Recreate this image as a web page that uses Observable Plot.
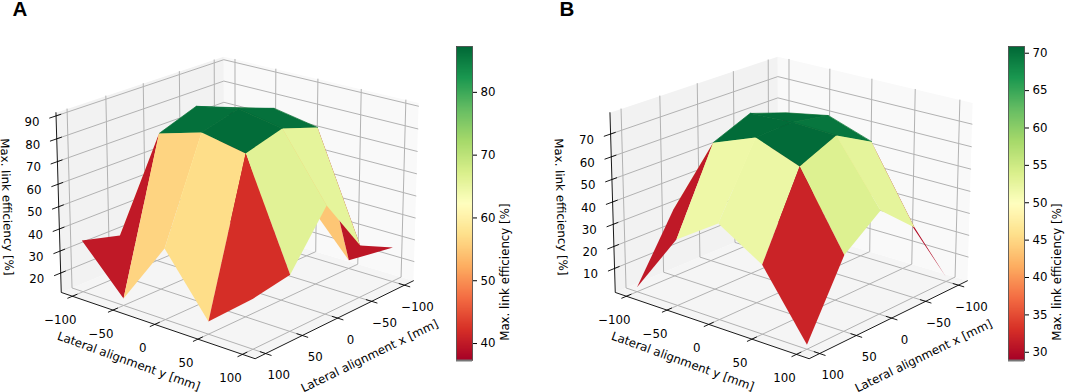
<!DOCTYPE html>
<html><head><meta charset="utf-8">
<script src="https://cdn.jsdelivr.net/npm/d3@7"></script>
<script src="https://cdn.jsdelivr.net/npm/@observablehq/plot@0.6"></script>
<style>html,body{margin:0;padding:0;background:#fff}
#root{position:relative;width:1065px;height:392px;overflow:hidden}
#root>div,#root>svg{position:absolute;top:0}</style></head>
<body><div id="root"></div>
<script>
const gridX=[-100,-50,0,50,100];
const gridY=[-100,-50,0,50,100];
// rows: x = -100..100, columns: y = -100..100
const zA=[[15,25,36.8,14.9,26.8],[29,81,85.4,81.8,34.7],[50,87.2,91,87.3,59.2],[29.9,81.1,86.5,82.6,36],[34.5,14.3,42.6,16.7,33]];
const zB=[[3,14,30,24.7,0.9],[20,66.5,70.1,63.5,30.7],[44,72,73,72.2,44.9],[29.7,65,72.3,65,32.5],[1,28.6,41.4,29.4,1]];
const zTicksA=[20,30,40,50,60,70,80,90];
const zTicksB=[10,20,30,40,50,60,70];
const zLimA=[11.1,91.4];
const zLimB=[-1,79.3];
const barDomainA=[37.3,87.3];
const barDomainB=[28.9,70.9];
const barTicksA=[40,50,60,70,80];
const barTicksB=[30,35,40,45,50,55,60,65,70];
const cmap=["#a50026","#d73027","#f46d43","#fdae61","#fee08b","#ffffbf","#d9ef8b","#a6d96a","#66bd63","#1a9850","#006837"];
const zLabel="Max. link efficiency [%]";
const xLabel="Lateral alignment x [mm]";
const yLabel="Lateral alignment y [mm]";
const FONT="DejaVu Sans", FS=11.8;
const L=114, dist=10, W=450, H=392;
const view={el:20,az:40,bx:1.143,bz:0.857,k:2219,cx:238,cy:198};
const rad=Math.PI/180;
function camera(zLim){
  const sa=Math.sin(view.az*rad),ca=Math.cos(view.az*rad),se=Math.sin(view.el*rad),ce=Math.cos(view.el*rad);
  return (x,y,z)=>{
    const X=x/L*view.bx/2,Y=y/L*view.bx/2,Z=((z-zLim[0])/(zLim[1]-zLim[0])-.5)*view.bz;
    const px=-sa*X+ca*Y, py=-se*ca*X-se*sa*Y+ce*Z, pz=ce*ca*X+ce*sa*Y+se*Z, w=dist-pz;
    return {sx:px/w,sy:py/w,depth:pz};
  };
}
function colorScale(dom){
  return {type:"linear",domain:d3.range(cmap.length).map(i=>dom[0]+(dom[1]-dom[0])*i/(cmap.length-1)),range:cmap,interpolate:"rgb",clamp:true};
}
function panel(z,zLim,zTicks,dom,name,nameDx){
  const P=camera(zLim),[z0,z1]=zLim;
  const path=(pts,id,extra)=>pts.map(p=>({...P(...p),id,...extra}));
  const panes=[
    path([[-L,-L,z0],[L,-L,z0],[L,L,z0],[-L,L,z0]],"floor",{f:"#f5f5f5"}),
    path([[-L,-L,z0],[L,-L,z0],[L,-L,z1],[-L,-L,z1]],"wy",{f:"#f2f2f2"}),
    path([[-L,-L,z0],[-L,L,z0],[-L,L,z1],[-L,-L,z1]],"wx",{f:"#f9f9f9"})
  ].flat();
  const grid=[];
  gridX.forEach(x=>{grid.push(...path([[x,L,z0],[x,-L,z0],[x,-L,z1]],"gx"+x));});
  gridY.forEach(y=>{grid.push(...path([[L,y,z0],[-L,y,z0],[-L,y,z1]],"gy"+y));});
  zTicks.forEach(t=>{grid.push(...path([[L,-L,t],[-L,-L,t],[-L,L,t]],"gz"+t));});
  const axes=[...path([[L,-L,z1],[L,-L,z0],[L,L,z0],[-L,L,z0]],"ax")];
  gridY.forEach(y=>axes.push(...path([[L-6,y,z0],[L+6,y,z0]],"ty"+y)));
  gridX.forEach(x=>axes.push(...path([[x,L-6,z0],[x,L+6,z0]],"tx"+x)));
  zTicks.forEach(t=>axes.push(...path([[L-6,-L,t],[L+8,-L,t]],"tz"+t)));
  const faces=[];
  for(let i=0;i<4;i++)for(let j=0;j<4;j++){
    const c=[[i,j],[i+1,j],[i+1,j+1],[i,j+1]];
    const vals=c.map(([a,b])=>z[a][b]);
    const mean=d3.mean(vals);
    const pts=c.map(([a,b])=>P(gridX[a],gridY[b],z[a][b]));
    faces.push({id:i+"-"+j,mean,pts,depth:d3.mean(pts,p=>p.depth)});
  }
  faces.sort((a,b)=>a.depth-b.depth);
  const topCut=dom[0]+0.9*(dom[1]-dom[0]);
  const facePts=faces.flatMap(f=>f.pts.map(p=>({sx:p.sx,sy:p.sy,id:f.id,mean:f.mean,sw:f.mean>topCut?0.7:0})));
  const yLab=gridY.map(y=>({...P(L,y,z0),t:String(y).replace("-","−")}));
  const xLab=gridX.map(x=>({...P(x,L,z0),t:String(x).replace("-","−")}));
  const zLab=zTicks.map(t=>({...P(L,-L,t),t:String(t)}));
  const yTitle=[{...P(L,0,z0),t:yLabel}];
  const xTitle=[{...P(0,L,z0),t:xLabel}];
  const zTitle=[{...P(L,-L,(z0+z1)/2),t:zLabel}];
  const k=view.k;
  return Plot.plot({
    width:W,height:H,margin:0,
    style:{fontFamily:FONT,background:"transparent",color:"#000"},
    x:{axis:null,domain:[(0-view.cx)/k,(W-view.cx)/k],range:[0,W]},
    y:{axis:null,domain:[(view.cy-H)/k,view.cy/k],range:[H,0]},
    color:colorScale(dom),
    marks:[
      Plot.line(panes,{x:"sx",y:"sy",z:"id",fill:d=>d.f,stroke:null,curve:"linear-closed"}),
      Plot.line(grid,{x:"sx",y:"sy",z:"id",stroke:"#b2b2b2",strokeWidth:1}),
      Plot.line(axes,{x:"sx",y:"sy",z:"id",stroke:"#000",strokeWidth:0.9}),
      Plot.line(facePts,{x:"sx",y:"sy",z:"id",fill:"mean",stroke:"mean",strokeWidth:d=>d.sw,curve:"linear-closed"}),
      Plot.text(yLab,{x:"sx",y:"sy",text:"t",dx:-12,dy:24,fill:"#000",fontSize:FS}),
      Plot.text(xLab,{x:"sx",y:"sy",text:"t",dx:13,dy:22,fill:"#000",fontSize:FS}),
      Plot.text(zLab,{x:"sx",y:"sy",text:"t",dx:-24,dy:6,fill:"#000",fontSize:FS}),
      Plot.text(yTitle,{x:"sx",y:"sy",text:"t",rotate:20,dx:-26,dy:37,fill:"#000",fontSize:FS}),
      Plot.text(xTitle,{x:"sx",y:"sy",text:"t",rotate:-26,dx:32,dy:38,fill:"#000",fontSize:FS}),
      Plot.text(zTitle,{x:"sx",y:"sy",text:"t",rotate:88,dx:-52,dy:3,fill:"#000",fontSize:FS}),
      Plot.text([name],{frameAnchor:"top-left",dx:nameDx,dy:1,lineAnchor:"top",textAnchor:"start",text:d=>d,fontSize:20.5,fontWeight:"bold",fontFamily:"Liberation Sans",fill:"#000"})
    ]
  });
}
function colorbar(dom,ticks){
  return Plot.plot({
    width:100,height:H,marginLeft:16,marginRight:68,marginTop:46,marginBottom:32,
    style:{fontFamily:FONT,background:"transparent",color:"#000"},
    x:{axis:null,domain:[0,1]},
    y:{domain:dom,axis:null},
    color:colorScale(dom),
    marks:[
      Plot.raster({x1:0,x2:1,y1:dom[0],y2:dom[1],fill:(x,y)=>y,width:1,height:256,imageRendering:"auto"}),
      Plot.frame({stroke:"#444",strokeWidth:0.8}),
      Plot.ruleY([dom[0]],{stroke:"#777",strokeWidth:2}),
      Plot.axisY(ticks,{anchor:"right",tickSize:4,tickPadding:4,label:null,tickFormat:d=>d,fontSize:FS}),
      Plot.text([zLabel],{frameAnchor:"right",rotate:-90,dx:33,text:d=>d,fill:"#000",fontSize:FS})
    ]
  });
}
const root=document.getElementById("root");
function place(el,left){el.style.position="absolute";el.style.left=left+"px";el.style.top="0";root.appendChild(el);}
place(panel(zA,zLimA,zTicksA,barDomainA,"A",12),0);
place(colorbar(barDomainA,barTicksA),440);
place(panel(zB,zLimB,zTicksB,barDomainB,"B",5),554);
place(colorbar(barDomainB,barTicksB),992);
</script></body></html>
